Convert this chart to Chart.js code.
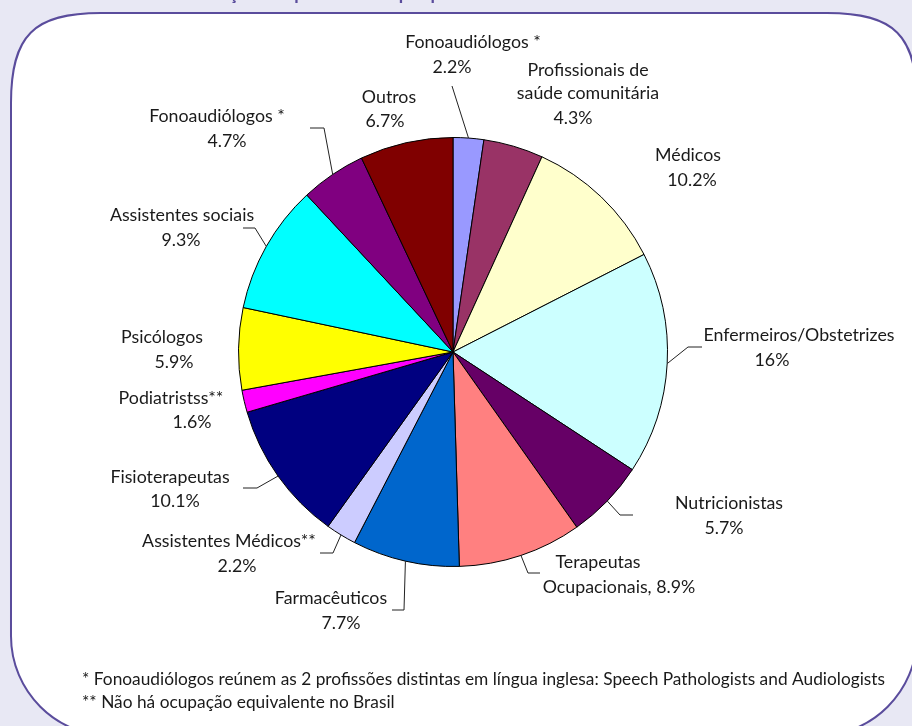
<!DOCTYPE html>
<html>
<head>
<meta charset="utf-8">
<script src="https://cdn.jsdelivr.net/npm/chart.js@4.4.0/dist/chart.umd.min.js"></script>
<style>
  html, body { margin: 0; padding: 0; background: #e8e8f4; }
  canvas { display: block; }
</style>
</head>
<body>
<canvas id="pieChart" width="912" height="726"></canvas>
<script>
const titleText = "Distribuição dos profissionais por profissão";

const categories = [
    "Fonoaudiólogos *",
    "Profissionais de\nsaúde comunitária",
    "Médicos",
    "Enfermeiros/Obstetrizes",
    "Nutricionistas",
    "Terapeutas\nOcupacionais",
    "Farmacêuticos",
    "Assistentes Médicos**",
    "Fisioterapeutas",
    "Podiatristss**",
    "Psicólogos",
    "Assistentes sociais",
    "Fonoaudiólogos *",
    "Outros",
];

const shares = [2.2, 4.3, 10.2, 16, 5.7, 8.9, 7.7, 2.2, 10.1, 1.6, 5.9, 9.3, 4.7, 6.7];

const sliceColors = [
    "#9999ff", "#993366", "#ffffcc", "#ccffff", "#660066", "#ff8080", "#0066cc",
    "#ccccff", "#000080", "#ff00ff", "#ffff00", "#00ffff", "#800080", "#800000",
];

const footnotes = [
    "* Fonoaudiólogos reúnem as 2 profissões distintas em língua inglesa: Speech Pathologists and Audiologists",
    "** Não há ocupação equivalente no Brasil",
];

// centre of each text line, then leader elbow [x, y, end of horizontal tick]
const labelLayout = [
    { lines: [[473, 42], [452, 67]], leader: [452, 86, null] },
    { lines: [[588, 70], [588, 93], [573, 118]] },
    { lines: [[688, 155], [692, 180]] },
    { lines: [[799, 335], [772, 360]], leader: [688, 347, 702] },
    { lines: [[729, 503], [724, 528]], leader: [620, 515, 633] },
    { lines: [[598, 562], [619, 587]], inline: true, leader: [528, 573, 540] },
    { lines: [[331, 598], [341, 623]], leader: [404, 610, 392] },
    { lines: [[229, 541], [237, 566]], leader: [333, 553, 320] },
    { lines: [[170, 477], [175, 501]], leader: [257, 488, 243] },
    { lines: [[171, 398], [192, 422]] },
    { lines: [[162, 337], [174, 362]] },
    { lines: [[182, 215], [181, 240]], leader: [255, 228, 243] },
    { lines: [[217, 116], [227, 141]], leader: [324, 128, 310] },
    { lines: [[389, 97], [385, 121]] },
];

const textFont = "17.8px Lato";
const textColor = "#1a1a1a";

// top corners are tight, bottom ones close to a circle
function framePath(ctx, l, t, r, b) {
    const rt = 90, kt = 0.25 * rt;
    const rb = 100, kb = 0.448 * rb;
    ctx.beginPath();
    ctx.moveTo(l + rt, t);
    ctx.lineTo(r - rt, t);
    ctx.bezierCurveTo(r - kt, t, r, t + kt, r, t + rt);
    ctx.lineTo(r, b - rb);
    ctx.bezierCurveTo(r, b - kb, r - kb, b, r - rb, b);
    ctx.lineTo(l + rb, b);
    ctx.bezierCurveTo(l + kb, b, l, b - kb, l, b - rb);
    ctx.lineTo(l, t + rt);
    ctx.bezierCurveTo(l, t + kt, l + kt, t, l + rt, t);
    ctx.closePath();
}

const backdrop = {
    id: "backdrop",
    beforeDraw(chart) {
        const ctx = chart.ctx;
        ctx.save();
        ctx.fillStyle = "#e8e8f4";
        ctx.fillRect(0, 0, chart.width, chart.height);

        // title sits above the window, only its descenders show
        ctx.fillStyle = "#5a4c9c";
        ctx.font = "bold 18px Lato";
        ctx.textBaseline = "alphabetic";
        ctx.textAlign = "left";
        ctx.fillText(titleText, 160, 0);

        framePath(ctx, 11, 13, 917, 736);
        ctx.fillStyle = "#ffffff";
        ctx.fill();
        ctx.lineWidth = 2;
        ctx.strokeStyle = "#5a4c9c";
        ctx.stroke();
        ctx.restore();
    },
};

const sliceLabels = {
    id: "sliceLabels",
    afterDraw(chart) {
        const ctx = chart.ctx;
        const arcs = chart.getDatasetMeta(0).data;
        ctx.save();
        ctx.font = textFont;
        ctx.fillStyle = textColor;
        ctx.textAlign = "center";
        ctx.textBaseline = "middle";

        arcs.forEach((arc, i) => {
            const lay = labelLayout[i];
            const value = shares[i] + "%";
            let lines = categories[i].split("\n");
            if (lay.inline) {
                lines[lines.length - 1] += ", " + value;
            } else {
                lines.push(value);
            }
            lines.forEach((txt, j) => {
                ctx.fillText(txt, lay.lines[j][0], lay.lines[j][1]);
            });

            if (lay.leader) {
                const mid = (arc.startAngle + arc.endAngle) / 2;
                const ax = arc.x + Math.cos(mid) * arc.outerRadius;
                const ay = arc.y + Math.sin(mid) * arc.outerRadius;
                const [ex, ey, hx] = lay.leader;
                ctx.beginPath();
                ctx.moveTo(ax, ay);
                ctx.lineTo(ex, ey);
                if (hx !== null) ctx.lineTo(hx, ey);
                ctx.strokeStyle = "#222";
                ctx.lineWidth = 1;
                ctx.stroke();
            }
        });

        // footnotes are set in a condensed face, so squeeze to width
        ctx.textAlign = "left";
        ctx.font = "16.5px Lato";
        const natural = ctx.measureText(footnotes[0]).width;
        const squeeze = 803 / natural;
        footnotes.forEach((txt, j) => {
            ctx.save();
            ctx.translate(82, 680 + j * 23);
            ctx.scale(squeeze, 1);
            ctx.fillText(txt, 0, 0);
            ctx.restore();
        });
        ctx.restore();
    },
};

const ctx = document.getElementById("pieChart").getContext("2d");
new Chart(ctx, {
    type: "pie",
    data: {
        labels: categories.map((c) => c.replace("\n", " ")),
        datasets: [
            {
                data: shares,
                backgroundColor: sliceColors,
                borderColor: "#000000",
                borderWidth: 1,
                hoverOffset: 0,
            },
        ],
    },
    options: {
        responsive: false,
        animation: false,
        devicePixelRatio: 1,
        events: [],
        layout: {
            padding: { left: 238, top: 137, right: 244, bottom: 159 },
        },
        plugins: {
            legend: { display: false },
            tooltip: { enabled: false },
        },
    },
    plugins: [backdrop, sliceLabels],
});
</script>
</body>
</html>
